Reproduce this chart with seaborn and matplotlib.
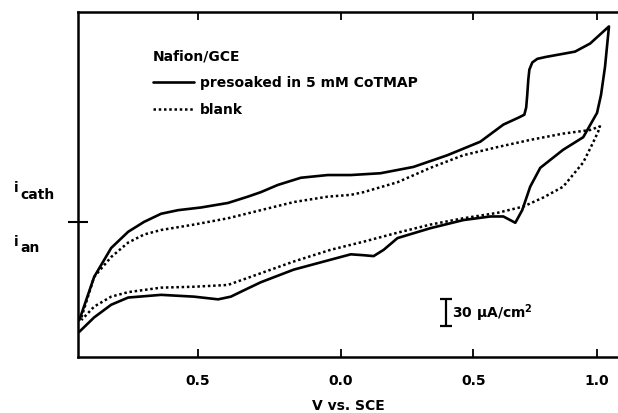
import pandas as pd
import seaborn as sns
import matplotlib.pyplot as plt

# ---- data (V vs. SCE, current in uA/cm^2, cathodic up) ----
# Nafion/GCE presoaked in 5 mM CoTMAP, forward + reverse sweep
cot_v_fwd = [-0.985, -0.929, -0.865, -0.801, -0.741, -0.677, -0.613, -0.526, -0.425,
             -0.350, -0.301, -0.237, -0.150, -0.049, 0.038, 0.150, 0.274, 0.402,
             0.526, 0.613, 0.672, 0.692, 0.699, 0.703, 0.707, 0.711, 0.722, 0.741,
             0.771, 0.827, 0.883, 0.940, 1.011]
cot_i_fwd = [-109, -61, -29, -11, 0, 9, 13, 16, 21, 28, 33, 41, 49, 52, 52, 54, 61,
             74, 89, 108, 116, 119, 127, 141, 158, 169, 177, 181, 183, 186, 189, 198, 217]
cot_v_rev = [0.996, 0.981, 0.966, 0.914, 0.838, 0.752, 0.714, 0.684, 0.658, 0.613,
             0.564, 0.462, 0.338, 0.214, 0.162, 0.124, 0.086, 0.038, -0.038, -0.177,
             -0.301, -0.365, -0.414, -0.462, -0.553, -0.677, -0.801, -0.865, -0.929,
             -0.985]
cot_i_rev = [172, 141, 121, 94, 80, 60, 39, 13, -1, 6, 6, 2, -7, -18, -31, -38, -37,
             -36, -42, -53, -67, -76, -83, -86, -83, -81, -84, -92, -106, -122]

# blank Nafion/GCE
blank_v_fwd = [-0.977, -0.929, -0.865, -0.801, -0.741, -0.677, -0.553, -0.425, -0.301,
               -0.177, -0.049, 0.038, 0.086, 0.214, 0.338, 0.462, 0.590, 0.714, 0.838,
               0.940, 0.977]
blank_i_fwd = [-106, -61, -39, -23, -14, -9, -3, 4, 13, 22, 28, 30, 33, 44, 60, 74, 83,
               91, 98, 102, 106]
blank_v_rev = [0.970, 0.951, 0.914, 0.838, 0.763, 0.688, 0.590, 0.462, 0.338, 0.214,
               0.086, -0.038, -0.177, -0.301, -0.425, -0.553, -0.677, -0.801, -0.865,
               -0.929, -0.977]
blank_i_rev = [100, 88, 66, 39, 27, 17, 10, 4, -3, -12, -22, -31, -44, -57, -70, -72,
               -73, -78, -83, -94, -109]

tick_pos = [-0.538, 0.0, 0.5, 0.966]
tick_labels = ['0.5', '0.0', '0.5', '1.0']

df_cot = pd.DataFrame({'V': cot_v_fwd + cot_v_rev, 'i': cot_i_fwd + cot_i_rev})
df_blank = pd.DataFrame({'V': blank_v_fwd + blank_v_rev, 'i': blank_i_fwd + blank_i_rev})

sns.set_style('white')
plt.rcParams['font.family'] = ['DejaVu Sans']
plt.rcParams['font.weight'] = 'bold'
plt.rcParams['mathtext.default'] = 'regular'
plt.rcParams['text.color'] = 'black'
plt.rcParams['axes.labelcolor'] = 'black'
plt.rcParams['xtick.color'] = 'black'
plt.rcParams['ytick.color'] = 'black'

fig = plt.figure(figsize=(6.18, 4.13), dpi=100)
ax = fig.add_axes([78 / 618, 1 - 357 / 413, 1 - 78 / 618, 345 / 413])

sns.lineplot(data=df_cot, x='V', y='i', sort=False, estimator=None, color='black',
             lw=1.9, solid_joinstyle='round', ax=ax, label='presoaked in 5 mM CoTMAP')
sns.lineplot(data=df_blank, x='V', y='i', sort=False, estimator=None, color='black',
             lw=1.8, ls=(0, (1, 1.1)), ax=ax, label='blank')

ax.set_xlim(-0.99, 1.045)
ax.set_ylim(-150, 233)

for s in ['left', 'top', 'bottom']:
    ax.spines[s].set_linewidth(1.8)
    ax.spines[s].set_color('black')
ax.spines['right'].set_visible(False)

ax.set_xticks(tick_pos)
ax.set_xticklabels(tick_labels, fontsize=10, fontweight='bold')
ax.tick_params(axis='x', which='both', direction='in', top=True, bottom=True,
               length=6, width=1.3, pad=12)
ax.set_yticks([0])
ax.set_yticklabels([''])
ax.tick_params(axis='y', direction='inout', left=True, length=14, width=1.5)
ax.set_xlabel('V vs. SCE', fontsize=10, fontweight='bold', labelpad=8)
ax.set_ylabel('')

# i_cath / i_an labels beside the zero mark
ytr = ax.get_yaxis_transform()
ax.text(-0.118, 38, 'i', transform=ytr, fontsize=10, fontweight='bold', va='center')
ax.text(-0.107, 30, 'cath', transform=ytr, fontsize=10, fontweight='bold', va='center')
ax.text(-0.118, -22, 'i', transform=ytr, fontsize=10, fontweight='bold', va='center')
ax.text(-0.107, -29, 'an', transform=ytr, fontsize=10, fontweight='bold', va='center')

# 30 uA/cm2 scale bar
bar_v, bar_mid, bar_len = 0.395, -101, 30
ax.errorbar([bar_v], [bar_mid], yerr=bar_len / 2, color='black', capsize=4,
            elinewidth=1.6, capthick=1.6)
ax.text(bar_v + 0.025, bar_mid, '30 $\\mu$A/cm$^2$',
        fontsize=10, fontweight='bold', va='center')

leg = ax.legend(title='Nafion/GCE', frameon=False, loc='upper left',
                bbox_to_anchor=(0.115, 0.927), handlelength=3.0, handletextpad=0.4,
                labelspacing=0.9, fontsize=10, title_fontsize=10, alignment='left')
leg.get_title().set_fontweight('bold')

fig.savefig('out.png', dpi=100)
